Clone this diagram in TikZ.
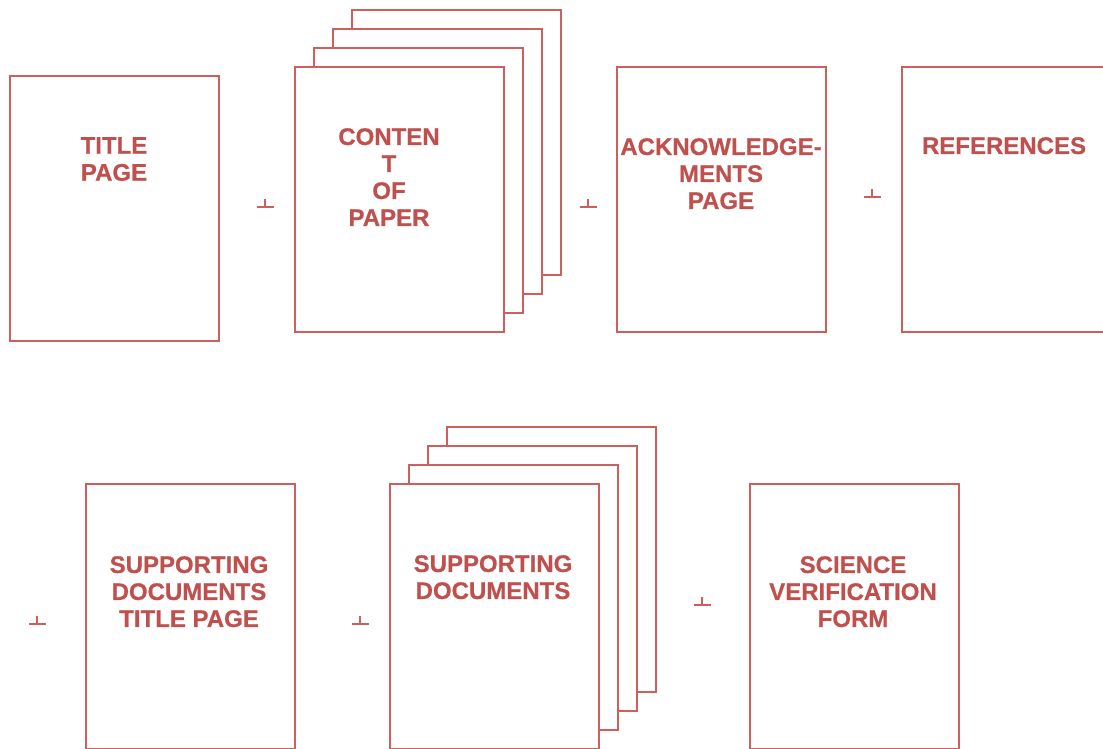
\documentclass[tikz,border=0pt]{standalone}
\usepackage{fontspec}
\setmainfont{Liberation Sans}[BoldFeatures={FakeBold=0.6}]
\usepackage{tikz}

\definecolor{pagered}{RGB}{205,96,92}
\definecolor{textred}{RGB}{192,80,77}

\tikzset{
    page/.style={draw=pagered, line width=2pt, fill=white, rectangle,
        minimum width=209pt, minimum height=265pt, inner sep=0pt, anchor=north west},
    label/.style={text=textred, font=\fontsize{24}{27}\selectfont\bfseries,
        align=center, inner sep=0pt, anchor=north},
}

\newcommand{\joinmark}[1]{%
    \draw[pagered, line width=1.5pt] ($(#1)+(-8.5,0)$) -- ($(#1)+(8.5,0)$);
    \draw[pagered, line width=1.5pt] (#1) -- ($(#1)+(0,-8)$);}

\usetikzlibrary{calc}

\begin{document}
\begin{tikzpicture}[x=1pt, y=-1pt]
    \clip (0,0) rectangle (1103,748);

    % Top row
    \node[page] (title) at (8.5,74.5) {};
    \foreach \i in {3,2,1} {
        \node[page] (content\i) at (293.5+19*\i,65.5-19*\i) {};
    }
    \node[page] (content) at (293.5,65.5) {};
    \node[page] (ack) at (615.5,65.5) {};
    \node[page] (refs) at (900.5,65.5) {};

    \node[label] (titletext) at (114,137) {TITLE\\PAGE};
    \node[label] (contenttext) at (389,128) {CONTEN\\T\\OF\\PAPER};
    \node[label] (acktext) at (721,138) {ACKNOWLEDGE-\\MENTS\\PAGE};
    \node[label] (refstext) at (1004,137) {REFERENCES};

    % Bottom row
    \node[page] (supptitle) at (84.5,482.5) {};
    \foreach \i in {3,2,1} {
        \node[page] (supp\i) at (388.5+19*\i,482.5-19*\i) {};
    }
    \node[page] (supp) at (388.5,482.5) {};
    \node[page] (science) at (748.5,482.5) {};

    \node[label] (supptitletext) at (189,556) {SUPPORTING\\DOCUMENTS\\TITLE PAGE};
    \node[label] (supptext) at (493,555) {SUPPORTING\\DOCUMENTS};
    \node[label] (sciencetext) at (853,556) {SCIENCE\\VERIFICATION\\FORM};

    % Marks
    \coordinate (m1) at (265,207);
    \coordinate (m2) at (588,207);
    \coordinate (m3) at (872,197);
    \coordinate (m4) at (37,624);
    \coordinate (m5) at (360,624);
    \coordinate (m6) at (702,605);
    \foreach \m in {m1,m2,m3,m4,m5,m6} {
        \joinmark{\m}
    }
\end{tikzpicture}
\end{document}
